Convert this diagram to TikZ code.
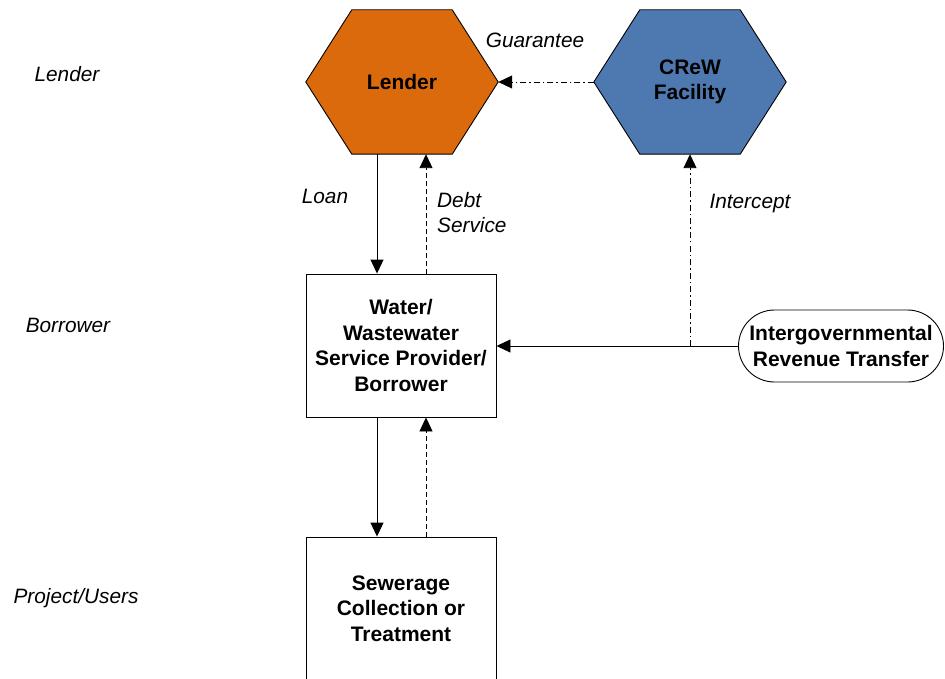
\documentclass[tikz,border=0pt]{standalone}
\usepackage{fontspec}
\setmainfont{Liberation Sans}
\usetikzlibrary{arrows.meta,shapes.misc,backgrounds}
\definecolor{lendorange}{RGB}{219,106,12}
\definecolor{crewblue}{RGB}{78,121,176}
\begin{document}
\begin{tikzpicture}[x=1pt,y=-1pt,
  boldtxt/.style={font=\bfseries\fontsize{21}{25.5}\selectfont, align=center},
  lbl/.style={font=\itshape\fontsize{20.8}{25.5}\selectfont, align=left, inner sep=0pt},
  hexnode/.style={boldtxt, minimum width=192pt, minimum height=144pt, inner sep=0pt},
  hexline/.style={draw=black, line width=0.9pt},
  box/.style={boldtxt, draw, line width=0.9pt, minimum width=190pt, minimum height=143pt, inner sep=0pt},
  pill/.style={boldtxt, draw, line width=0.9pt, rounded rectangle, minimum width=207pt, minimum height=72pt, inner sep=1pt},
  tip/.style={-{Triangle[length=14pt,width=13pt]}},
  flow/.style={tip, line width=0.9pt},
  dashflow/.style={tip, line width=0.9pt, dash pattern=on 5pt off 3pt},
  dotdashflow/.style={tip, line width=0.9pt, dash pattern=on 6pt off 3pt on 1.5pt off 3pt}
]
\useasboundingbox (0,0) rectangle (945,679);

% nodes
\node[hexnode] (lender) at (402,82) {Lender};
\node[hexnode] (crew) at (690,82) {CReW\\Facility};
\node[box] (water) at (401,345.5) {Water/\\Wastewater\\Service Provider/\\Borrower};
\node[box] (sewer) at (401,608.5) {Sewerage\\Collection or\\Treatment};
\node[pill] (igrt) at (841,346) {Intergovernmental\\Revenue Transfer};

% hexagon outlines
\begin{pgfonlayer}{background}
\filldraw[hexline, fill=lendorange] (lender.west) -- ([xshift=46pt]lender.north west) -- ([xshift=-46pt]lender.north east) -- (lender.east) -- ([xshift=-46pt]lender.south east) -- ([xshift=46pt]lender.south west) -- cycle;
\filldraw[hexline, fill=crewblue] (crew.west) -- ([xshift=46pt]crew.north west) -- ([xshift=-46pt]crew.north east) -- (crew.east) -- ([xshift=-46pt]crew.south east) -- ([xshift=46pt]crew.south west) -- cycle;
\end{pgfonlayer}

% row labels
\node[lbl] (rowlender) at (67,74) {Lender};
\node[lbl] (rowborrower) at (68,325) {Borrower};
\node[lbl] (rowproject) at (76,598) {Project/Users};

% edge labels
\node[lbl] (lguar) at (535,40) {Guarantee};
\node[lbl] (lloan) at (325,196) {Loan};
\node[lbl, anchor=west] (ldebt) at (437,212.5) {Debt\\Service};
\node[lbl] (linter) at (750,204) {Intercept};

% connectors
\draw[flow] ([xshift=-25pt]lender.south) -- ([xshift=-25pt]lender.south |- water.north);
\draw[dashflow] ([xshift=24pt]lender.south |- water.north) -- ([xshift=24pt]lender.south);
\draw[flow] ([xshift=-24pt]water.south) -- ([xshift=-24pt]water.south |- sewer.north);
\draw[dashflow] ([xshift=25pt]water.south |- sewer.north) -- ([xshift=25pt]water.south);
\draw[dotdashflow] (crew.west) -- (lender.east);
\draw[flow] (igrt.west) -- (water.east |- igrt.west);
\coordinate (icpt) at (crew.south |- igrt.west);
\draw[dotdashflow] (icpt) -- (crew.south);
\end{tikzpicture}
\end{document}
